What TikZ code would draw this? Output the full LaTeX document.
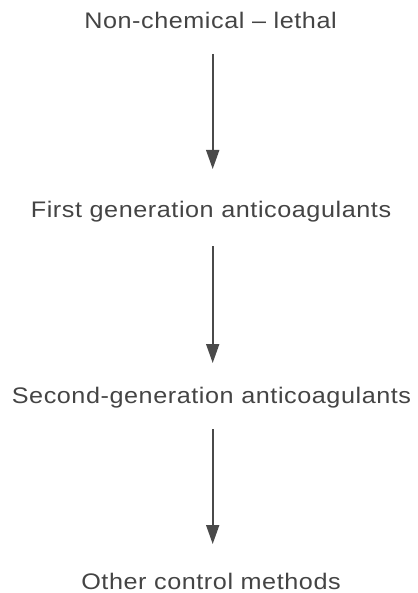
\documentclass[tikz,border=0pt]{standalone}
\usepackage{fontspec}
\setmainfont{Liberation Sans}[FakeStretch=1.12,LetterSpace=2.5]
\usetikzlibrary{arrows.meta}
\definecolor{txt}{HTML}{444444}
\definecolor{arr}{HTML}{4A4A4A}
\begin{document}
\begin{tikzpicture}[x=1pt,y=-1pt,
  lbl/.style={text=txt,font=\fontsize{22.5}{26}\selectfont,inner sep=0pt,anchor=base},
  conn/.style={draw=arr,line width=1.8pt,-{Triangle[length=19pt,width=13pt]}}]
\useasboundingbox (0,0) rectangle (417,593);
\node[lbl] (a) at (210.5,29) {Non-chemical – lethal};
\node[lbl] (b) at (211,218) {First generation anticoagulants};
\node[lbl] (c) at (211.5,403) {Second-generation anticoagulants};
\node[lbl] (d) at (211,589) {Other control methods};
\coordinate (a1) at (212.7,54);
\coordinate (a2) at (212.7,169);
\coordinate (b1) at (212.7,246);
\coordinate (b2) at (212.7,363);
\coordinate (c1) at (212.7,429);
\coordinate (c2) at (212.7,544);
\draw[conn] (a1) -- (a2);
\draw[conn] (b1) -- (b2);
\draw[conn] (c1) -- (c2);
\end{tikzpicture}
\end{document}
